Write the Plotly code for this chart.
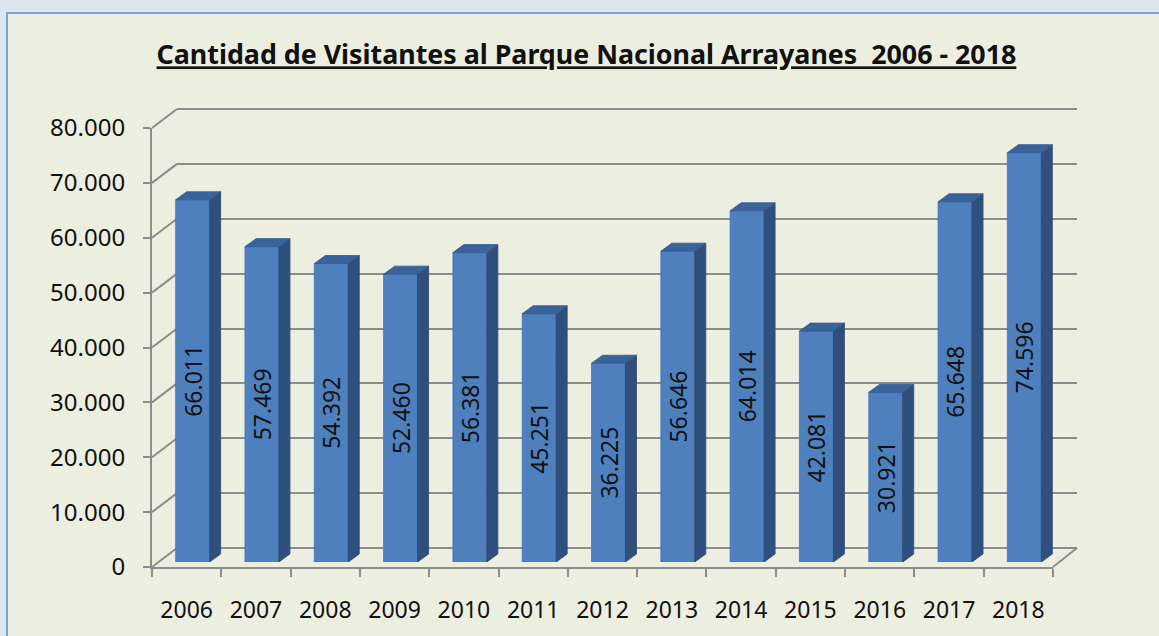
import plotly.graph_objects as go

# ---------------- data ----------------
years = ["2006", "2007", "2008", "2009", "2010", "2011", "2012",
         "2013", "2014", "2015", "2016", "2017", "2018"]
visitors = [66011, 57469, 54392, 52460, 56381, 45251, 36225,
            56646, 64014, 42081, 30921, 65648, 74596]
y_ticks = [0, 10000, 20000, 30000, 40000, 50000, 60000, 70000, 80000]
title_text = "Cantidad de Visitantes al Parque Nacional Arrayanes  2006 - 2018"

# ---------------- geometry / style ----------------
W, H = 1159, 636
YMAX = 80000
GRID = "#8c8c8c"
FRONT = "#4e80bd"
SIDE = "#2f507d"
TOP = "#3a639c"
FONT = "Noto Sans"


def px(x):
    return x / W


def py(y):
    return (H - y) / H


# pixel boxes for the three "planes" of the pseudo-3D chart
front_box = dict(x0=152, x1=1053, y0=567, y1=128)   # front axis plane
back_box = dict(x0=177, x1=1077, y0=548, y1=109)    # back wall
bar_box = dict(x0=158, x1=1059, y0=562, y1=123)     # bar front faces

# back wall range slightly extended so the top gridline is kept
EXT = 1.004
back_top_px = back_box["y0"] - (back_box["y0"] - back_box["y1"]) * EXT

BAR_W = 0.49
cat_px = (bar_box["x1"] - bar_box["x0"]) / len(years)
val_px = (bar_box["y0"] - bar_box["y1"]) / YMAX
DEPTH_X = 11 / cat_px
DEPTH_Y = 8 / val_px

fig = go.Figure()

# back wall (subplot 1: gridlines)
fig.add_trace(go.Scatter(x=list(range(len(years))), y=visitors, mode="markers",
                         marker=dict(opacity=0), hoverinfo="skip",
                         showlegend=False, xaxis="x", yaxis="y"))
# front axis (subplot 2: ticks & labels)
fig.add_trace(go.Scatter(x=years, y=visitors, mode="markers",
                         marker=dict(opacity=0), hoverinfo="skip",
                         showlegend=False, xaxis="x2", yaxis="y2"))

# bars (subplot 3)
xs = list(range(len(years)))
labels = [f"{v:,}".replace(",", ".") for v in visitors]

side_x, side_y, top_x, top_y = [], [], [], []
for i, v in zip(xs, visitors):
    xl, xr = i - BAR_W / 2, i + BAR_W / 2
    side_x += [xr, xr, xr + DEPTH_X, xr + DEPTH_X, xr, None]
    side_y += [0, v, v + DEPTH_Y, DEPTH_Y, 0, None]
    top_x += [xl, xr, xr + DEPTH_X, xl + DEPTH_X, xl, None]
    top_y += [v, v, v + DEPTH_Y, v + DEPTH_Y, v, None]

fig.add_trace(go.Scatter(x=side_x, y=side_y, fill="toself", fillcolor=SIDE,
                         mode="lines", line=dict(color="#2a4870", width=0.8),
                         hoverinfo="skip", showlegend=False,
                         xaxis="x3", yaxis="y3"))
fig.add_trace(go.Scatter(x=top_x, y=top_y, fill="toself", fillcolor=TOP,
                         mode="lines", line=dict(color="#335a90", width=0.8),
                         hoverinfo="skip", showlegend=False,
                         xaxis="x3", yaxis="y3"))
fig.add_trace(go.Bar(x=xs, y=visitors, width=BAR_W, marker=dict(
    color=FRONT, line=dict(color="#4474b0", width=0.8)),
    text=labels, textposition="inside", textangle=-90,
    insidetextanchor="middle", constraintext="none",
    textfont=dict(family=FONT, size=23, color="#111111"),
    hoverinfo="skip", showlegend=False, xaxis="x3", yaxis="y3"))

shapes = []
# chart frame
shapes.append(dict(type="rect", xref="paper", yref="paper",
                   x0=px(7), x1=1.1, y0=-0.1, y1=py(13),
                   line=dict(color="#7aa3d8", width=2),
                   fillcolor="#eceee0", layer="below"))
# left wall diagonals (from front ticks to back wall gridlines)
for t in y_ticks:
    yf = front_box["y0"] - t / YMAX * (front_box["y0"] - front_box["y1"])
    yb = back_box["y0"] - t / YMAX * (back_box["y0"] - back_box["y1"])
    shapes.append(dict(type="line", xref="paper", yref="paper",
                       x0=px(front_box["x0"]), y0=py(yf),
                       x1=px(back_box["x0"]), y1=py(yb),
                       line=dict(color=GRID, width=2), layer="below"))
# floor right edge
shapes.append(dict(type="line", xref="paper", yref="paper",
                   x0=px(front_box["x1"]), y0=py(front_box["y0"]),
                   x1=px(back_box["x1"]), y1=py(back_box["y0"]),
                   line=dict(color=GRID, width=2), layer="below"))

fig.update_layout(
    template="none",
    width=W, height=H,
    autosize=False,
    margin=dict(l=0, r=0, t=0, b=0, pad=0),
    paper_bgcolor="#dbe5f1",
    plot_bgcolor="rgba(0,0,0,0)",
    separators=",.",
    showlegend=False,
    hovermode=False,
    font=dict(family=FONT, color="#111111"),
    shapes=shapes,
    title=dict(text=f"<b><u>{title_text}</u></b>", x=0.506, xanchor="center",
               y=py(55), yanchor="middle", automargin=False,
               font=dict(family=FONT, size=26.8, color="#111111")),
    # back wall
    xaxis=dict(domain=[px(back_box["x0"]), px(back_box["x1"])],
               range=[-0.5, len(years) - 0.5], visible=False, anchor="y",
               automargin=False),
    yaxis=dict(domain=[py(back_box["y0"]), py(back_top_px)],
               range=[0, YMAX * EXT], tickvals=y_ticks, showticklabels=False,
               ticks="", showgrid=True, gridcolor=GRID, gridwidth=2,
               zeroline=True, zerolinecolor=GRID, zerolinewidth=2,
               showline=False, anchor="x", automargin=False),
    # front axis
    xaxis2=dict(domain=[px(front_box["x0"]), px(front_box["x1"])],
                type="category", categoryorder="array", categoryarray=years,
                range=[-0.5, len(years) - 0.5], anchor="y2",
                showline=True, linecolor=GRID, linewidth=2,
                ticks="outside", tickson="boundaries", ticklen=8,
                tickwidth=2, tickcolor=GRID, showgrid=False, zeroline=False,
                tickfont=dict(family=FONT, size=23, color="#111111"),
                ticklabelstandoff=21, automargin=False),
    yaxis2=dict(domain=[py(front_box["y0"]), py(front_box["y1"])],
                range=[0, YMAX], tickvals=y_ticks, tickformat=",d",
                anchor="x2", showline=True, linecolor=GRID, linewidth=2,
                ticks="outside", ticklen=7, tickwidth=2, tickcolor=GRID,
                showgrid=False, zeroline=False,
                tickfont=dict(family=FONT, size=24, color="#111111"),
                ticklabelstandoff=13, automargin=False),
    # bars
    xaxis3=dict(domain=[px(bar_box["x0"]), px(bar_box["x1"])],
                range=[-0.5, len(years) - 0.5], visible=False, anchor="y3",
                automargin=False),
    yaxis3=dict(domain=[py(bar_box["y0"]), py(bar_box["y1"])],
                range=[0, YMAX], visible=False, anchor="x3",
                automargin=False),
)

fig.write_html("out.html",
               config={"displayModeBar": False, "staticPlot": True},
               post_script="document.body.style.margin='0';"
                           "document.body.style.overflow='hidden';")
